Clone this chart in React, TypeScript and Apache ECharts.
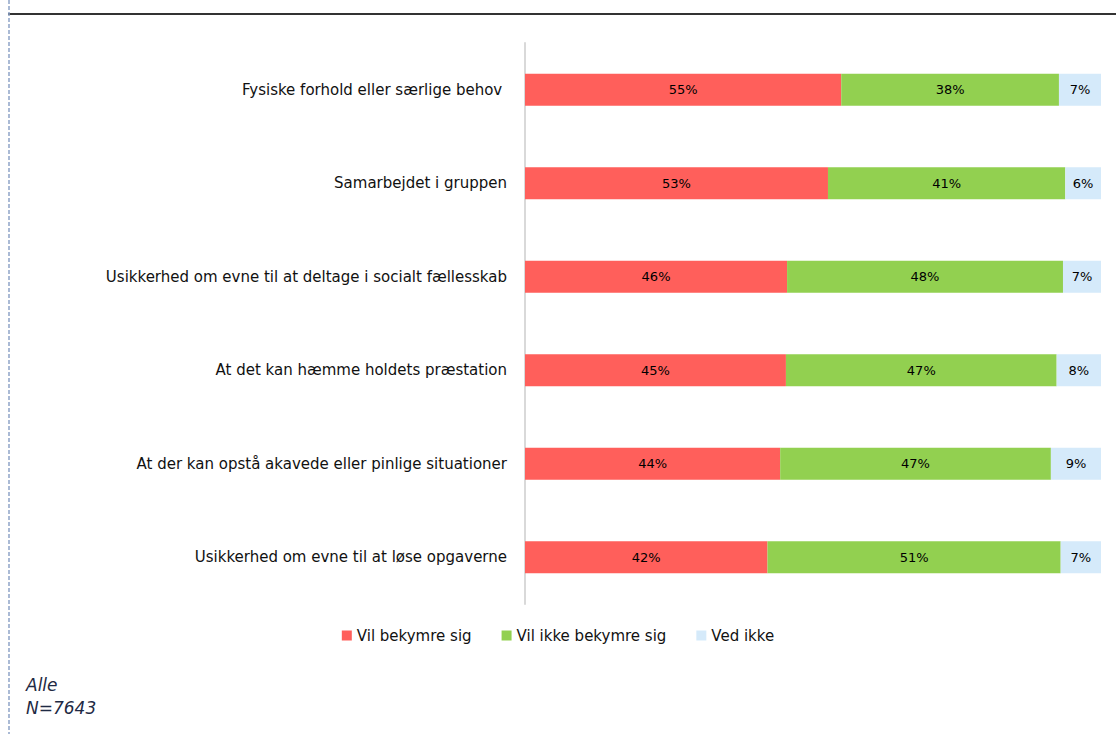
import React, { useEffect, useRef } from "react";
import * as echarts from "echarts";

const categories = [
  "Fysiske forhold eller særlige behov ",
  "Samarbejdet i gruppen",
  "Usikkerhed om evne til at deltage i socialt fællesskab",
  "At det kan hæmme holdets præstation",
  "At der kan opstå akavede eller pinlige situationer",
  "Usikkerhed om evne til at løse opgaverne",
];
const seriesNames = ["Vil bekymre sig", "Vil ikke bekymre sig", "Ved ikke"];
const worry = [54.9, 52.6, 45.5, 45.3, 44.3, 42.1];
const noWorry = [37.8, 41.2, 47.9, 47.0, 47.0, 50.9];
const dontKnow = [7.3, 6.2, 6.6, 7.7, 8.7, 7.0];
const footnotes = ["Alle", "N=7643"];

const colors = ["#ff5f5b", "#92d050", "#d5eafa"];
const FONT = "DejaVu Sans";

export default function App() {
  const ref = useRef<HTMLDivElement>(null);
  useEffect(() => {
    if (!ref.current) return;
    const chart = echarts.init(ref.current, null, { renderer: "svg" });
    const values = [worry, noWorry, dontKnow];
    chart.setOption({
      animation: false,
      backgroundColor: "#ffffff",
      grid: { left: 525, right: 15, top: 43, bottom: 130 },
      xAxis: {
        type: "value",
        min: 0,
        max: 100,
        show: false,
      },
      yAxis: {
        type: "category",
        inverse: true,
        data: categories,
        axisLine: { show: true, lineStyle: { color: "#d9d9d9", width: 2 } },
        axisTick: { show: false },
        axisLabel: {
          margin: 18,
          fontFamily: FONT,
          fontSize: 15,
          color: "#111",
        },
      },
      legend: {
        top: 623,
        left: "center",
        itemWidth: 10,
        itemHeight: 10,
        itemGap: 30,
        icon: "rect",
        textStyle: { fontFamily: FONT, fontSize: 15, color: "#111" },
        data: seriesNames,
      },
      series: seriesNames.map((name, i) => ({
        name,
        type: "bar",
        stack: "total",
        barWidth: 32,
        data: values[i],
        itemStyle: { color: colors[i] },
        label: {
          show: true,
          position: "inside",
          fontFamily: FONT,
          fontSize: 13,
          color: "#000",
          formatter: (p: any) => Math.round(p.value) + "%",
        },
      })),
      graphic: [
        {
          type: "line",
          shape: { x1: 8, y1: 14, x2: 1116, y2: 14 },
          style: { stroke: "#333", lineWidth: 2 },
        },
        {
          type: "line",
          shape: { x1: 9, y1: 0, x2: 9, y2: 734 },
          style: { stroke: "#8ea4c8", lineWidth: 1.5, lineDash: [4, 2] },
        },
        {
          type: "text",
          left: 26,
          top: 673,
          style: {
            text: footnotes.join("\n"),
            fontFamily: FONT,
            fontStyle: "italic",
            fontSize: 17,
            lineHeight: 23,
            fill: "#1f2a44",
          },
        },
      ],
    });
    return () => chart.dispose();
  }, []);
  return (
    <div
      ref={ref}
      style={{ position: "fixed", left: 0, top: 0, width: 1116, height: 734 }}
    />
  );
}
